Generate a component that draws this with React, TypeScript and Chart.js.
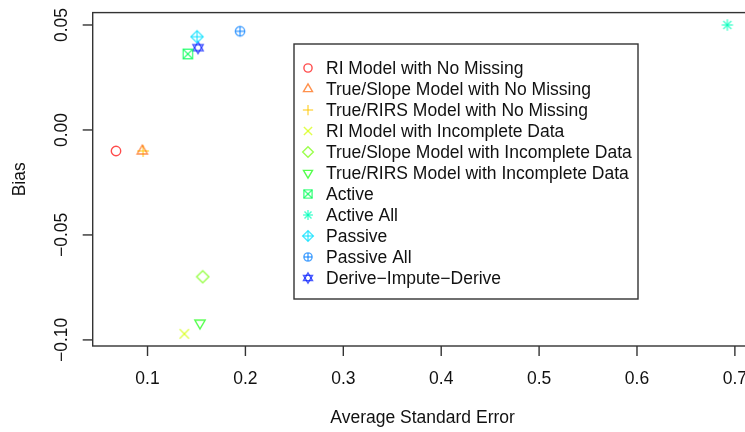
import React, { useEffect, useRef } from "react";
import { Chart, registerables } from "chart.js";

Chart.register(...registerables);

const seriesNames = [
  "RI Model with No Missing",
  "True/Slope Model with No Missing",
  "True/RIRS Model with No Missing",
  "RI Model with Incomplete Data",
  "True/Slope Model with Incomplete Data",
  "True/RIRS Model with Incomplete Data",
  "Active",
  "Active All",
  "Passive",
  "Passive All",
  "Derive\u2212Impute\u2212Derive",
];
const avgStdError = [0.0678, 0.0947, 0.0955, 0.1376, 0.1564, 0.1536, 0.1412, 0.6923, 0.1506, 0.1945, 0.1516];
const bias = [-0.01, -0.01, -0.01, -0.0971, -0.0699, -0.092, 0.0362, 0.05, 0.0444, 0.047, 0.0392];
const xTicks = [0.1, 0.2, 0.3, 0.4, 0.5, 0.6, 0.7];
const xTickLabels = ["0.1", "0.2", "0.3", "0.4", "0.5", "0.6", "0.7"];
const yTicks = [-0.1, -0.05, 0, 0.05];
const yTickLabels = ["\u22120.10", "\u22120.05", "0.00", "0.05"];
const xLimits = [0.044, 0.718];
const yLimits = [-0.1029, 0.0559];
const xTitle = "Average Standard Error";
const yTitle = "Bias";

const hues = [0, 23.4, 46.8, 70.2, 93.6, 117, 140.4, 163.8, 187.2, 210.6, 234];
const colors = hues.map((h) => `hsla(${h}, 100%, 50%, 0.7)`);
const symbols = ["circle", "triUp", "plus", "cross", "diamond", "triDown", "squareX", "asterisk", "diamondPlus", "circlePlus", "star6"];

const FONT = '17.5px "Liberation Sans", Arial, sans-serif';
const AXIS = "#333";

function drawSymbol(ctx: CanvasRenderingContext2D, kind: string, cx: number, cy: number, s: number, color: string) {
  ctx.save();
  ctx.strokeStyle = color;
  ctx.lineWidth = 1.4;
  const line = (x1: number, y1: number, x2: number, y2: number) => {
    ctx.beginPath();
    ctx.moveTo(cx + x1, cy + y1);
    ctx.lineTo(cx + x2, cy + y2);
    ctx.stroke();
  };
  const poly = (pts: number[][]) => {
    ctx.beginPath();
    pts.forEach((p, i) => (i === 0 ? ctx.moveTo(cx + p[0], cy + p[1]) : ctx.lineTo(cx + p[0], cy + p[1])));
    ctx.closePath();
    ctx.stroke();
  };
  const circle = (r: number) => {
    ctx.beginPath();
    ctx.arc(cx, cy, r, 0, Math.PI * 2);
    ctx.stroke();
  };
  const tri = (dir: number) => {
    const t = s * 1.1;
    poly([
      [0, -dir * t * 1.155],
      [-t, dir * t * 0.577],
      [t, dir * t * 0.577],
    ]);
  };
  const d = s * 1.3;
  switch (kind) {
    case "circle":
      circle(s);
      break;
    case "triUp":
      tri(1);
      break;
    case "triDown":
      tri(-1);
      break;
    case "plus":
      line(-s * 1.25, 0, s * 1.25, 0);
      line(0, -s * 1.25, 0, s * 1.25);
      break;
    case "cross":
      line(-s, -s, s, s);
      line(-s, s, s, -s);
      break;
    case "diamond":
      poly([[0, -d], [d, 0], [0, d], [-d, 0]]);
      break;
    case "squareX":
      poly([[-s, -s], [s, -s], [s, s], [-s, s]]);
      line(-s, -s, s, s);
      line(-s, s, s, -s);
      break;
    case "asterisk":
      line(-s * 1.2, 0, s * 1.2, 0);
      line(0, -s * 1.2, 0, s * 1.2);
      line(-s * 0.85, -s * 0.85, s * 0.85, s * 0.85);
      line(-s * 0.85, s * 0.85, s * 0.85, -s * 0.85);
      break;
    case "diamondPlus":
      poly([[0, -d], [d, 0], [0, d], [-d, 0]]);
      line(-d, 0, d, 0);
      line(0, -d, 0, d);
      break;
    case "circlePlus":
      circle(s);
      line(-s, 0, s, 0);
      line(0, -s, 0, s);
      break;
    case "star6":
      tri(1);
      tri(-1);
      break;
  }
  ctx.restore();
}

function makePointImage(kind: string, color: string, s: number) {
  const c = document.createElement("canvas");
  const size = Math.ceil(s * 3.2) + 4;
  c.width = size;
  c.height = size;
  const ctx = c.getContext("2d")!;
  drawSymbol(ctx, kind, size / 2, size / 2, s, color);
  return c;
}

const decorPlugin = {
  id: "decor",
  afterDraw(chart: any) {
    const ctx: CanvasRenderingContext2D = chart.ctx;
    const { left, right, top, bottom } = chart.chartArea;
    const xs = chart.scales.x;
    const ys = chart.scales.y;
    ctx.save();
    ctx.strokeStyle = AXIS;
    ctx.lineWidth = 1.4;
    ctx.strokeRect(left, top, right - left, bottom - top);
    ctx.fillStyle = "#111";
    ctx.font = FONT;
    ctx.textAlign = "center";
    ctx.textBaseline = "middle";
    xTicks.forEach((v, i) => {
      const px = xs.getPixelForValue(v);
      ctx.beginPath();
      ctx.moveTo(px, bottom);
      ctx.lineTo(px, bottom + 10);
      ctx.stroke();
      ctx.fillText(xTickLabels[i], px, 379);
    });
    ctx.fillText(xTitle, (left + 752.5) / 2, 418);
    yTicks.forEach((v, i) => {
      const py = ys.getPixelForValue(v);
      ctx.beginPath();
      ctx.moveTo(left, py);
      ctx.lineTo(left - 10, py);
      ctx.stroke();
      ctx.save();
      ctx.translate(62, py);
      ctx.rotate(-Math.PI / 2);
      ctx.fillText(yTickLabels[i], 0, 0);
      ctx.restore();
    });
    ctx.save();
    ctx.translate(20, (top + bottom) / 2);
    ctx.rotate(-Math.PI / 2);
    ctx.fillText(yTitle, 0, 0);
    ctx.restore();
    ctx.strokeRect(294, 44, 344, 255);
    ctx.textAlign = "left";
    seriesNames.forEach((name, i) => {
      const y = 68 + i * 21;
      drawSymbol(ctx, symbols[i], 308, y, 4.1, colors[i]);
      ctx.fillStyle = "#111";
      ctx.fillText(name, 326, y + 1);
    });
    ctx.restore();
  },
};

export default function App() {
  const ref = useRef<HTMLCanvasElement>(null);
  useEffect(() => {
    if (!ref.current) return;
    const datasets = seriesNames.map((name, i) => ({
      label: name,
      data: [{ x: avgStdError[i], y: bias[i] }],
      pointStyle: makePointImage(symbols[i], colors[i], 4.7),
      pointRadius: 6,
      borderColor: colors[i],
      backgroundColor: colors[i],
      showLine: false,
    }));
    const chart = new Chart(ref.current, {
      type: "scatter",
      data: { datasets },
      options: {
        responsive: false,
        animation: false,
        devicePixelRatio: 1,
        layout: { padding: { left: 0, top: 12.6, right: 27.5, bottom: 0 } },
        plugins: { legend: { display: false }, tooltip: { enabled: false } },
        scales: {
          x: {
            type: "linear",
            min: xLimits[0],
            max: xLimits[1],
            ticks: { display: false },
            grid: { display: false },
            border: { display: false },
            afterFit: (s: any) => {
              s.height = 86;
            },
          },
          y: {
            type: "linear",
            min: yLimits[0],
            max: yLimits[1],
            ticks: { display: false },
            grid: { display: false },
            border: { display: false },
            afterFit: (s: any) => {
              s.width = 92.7;
            },
          },
        },
      },
      plugins: [decorPlugin],
    });
    return () => chart.destroy();
  }, []);
  return (
    <div style={{ position: "absolute", left: 0, top: 0, width: 745, height: 432, overflow: "hidden", background: "#fff" }}>
      <canvas ref={ref} width={780} height={432} style={{ display: "block", width: 780, height: 432 }} />
    </div>
  );
}
